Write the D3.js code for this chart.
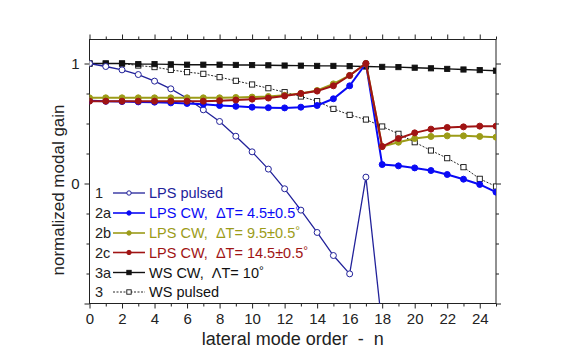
<!DOCTYPE html>
<html>
<head>
<meta charset="utf-8">
<script src="https://cdn.jsdelivr.net/npm/d3@7"></script>
<style>
body{margin:0;background:#fff;}
svg text{font-family:"Liberation Sans",Arial,sans-serif;fill:#222;white-space:pre;}
</style>
</head>
<body>
<div id="content"></div>
<script>
// data
var modes = [0,1,2,3,4,5,6,7,8,9,10,11,12,13,14,15,16,17,18,19,20,21,22,23,24,25];
var lpsPulsed = [1.0,0.975,0.947,0.908,0.853,0.789,0.71,0.614,0.517,0.394,0.264,0.12,-0.044,-0.222,-0.408,-0.6,-0.753,0.053,-1.2];
var lpsCw45 = [0.69,0.685,0.683,0.68,0.678,0.672,0.667,0.66,0.65,0.643,0.636,0.632,0.63,0.636,0.65,0.706,0.814,1.0,0.158,0.147,0.13,0.108,0.075,0.036,-0.008,-0.072];
var lpsCw95 = [0.714,0.714,0.714,0.714,0.714,0.714,0.714,0.714,0.714,0.717,0.72,0.725,0.735,0.75,0.775,0.83,0.9,1.0,0.308,0.344,0.375,0.392,0.397,0.397,0.392,0.386];
var lpsCw145 = [0.686,0.686,0.686,0.686,0.686,0.686,0.686,0.686,0.69,0.695,0.703,0.712,0.73,0.75,0.77,0.814,0.9,1.0,0.308,0.375,0.422,0.453,0.467,0.472,0.478,0.478];
var wsCw = [1.0,1.0,1.0,0.995,0.995,0.993,0.99,0.99,0.99,0.988,0.987,0.985,0.983,0.982,0.98,0.98,0.978,0.975,0.972,0.97,0.965,0.96,0.955,0.95,0.945,0.94];
var wsPulsed = [1.0,1.0,1.0,0.983,0.97,0.947,0.928,0.914,0.886,0.856,0.825,0.794,0.761,0.725,0.686,0.622,0.572,0.533,0.475,0.414,0.344,0.275,0.211,0.136,0.039,-0.025];

var xTicks = [0,2,4,6,8,10,12,14,16,18,20,22,24];
var xMinor = [1,3,5,7,9,11,13,15,17,19,21,23,25];
var yTicks = [-1,0,1];
var yLabels = [0,1];
var yMinor = [-0.75,-0.5,-0.25,0.25,0.5,0.75];

var legendNums = ["1","2a","2b","2c","3a","3"];
var legendNames = ["LPS pulsed","LPS CW,  \u0394T= 4.5\u00b10.5","LPS CW,  \u0394T= 9.5\u00b10.5","LPS CW,  \u0394T= 14.5\u00b10.5","WS CW,  \u039bT= 10","WS pulsed"];

var width = 568, height = 353;
var plotLeft = 89.5, plotRight = 496, plotTop = 39.5, plotBottom = 303.5;

var x = d3.scaleLinear().domain([0,25]).range([plotLeft,plotRight]);
var y = d3.scaleLinear().domain([-1,1.2]).range([plotBottom,plotTop]);

// series styles, in drawing order
var series = [
  {data: wsPulsed, color:"#111", width:0.9, dash:"2,1.5", marker:"square", fill:"#fff", leg:5},
  {data: wsCw, color:"#111", width:1.4, dash:null, marker:"square", fill:"#111", leg:4},
  {data: lpsPulsed, color:"#22229a", width:1.3, dash:null, marker:"circle", fill:"#fff", leg:0},
  {data: lpsCw45, color:"#0a0af5", width:2, dash:null, marker:"circle", fill:"#0a0af5", leg:1},
  {data: lpsCw95, color:"#9c9c18", width:2, dash:null, marker:"circle", fill:"#9c9c18", leg:2},
  {data: lpsCw145, color:"#a01414", width:2, dash:null, marker:"circle", fill:"#a01414", leg:3}
];

var svg = d3.select("#content").append("svg")
  .attr("width", width)
  .attr("height", height);

svg.append("clipPath").attr("id","plotclip")
  .append("rect").attr("x",plotLeft).attr("y",plotTop).attr("width",plotRight-plotLeft).attr("height",plotBottom-plotTop);

// axes
function styleAxis(g){
  g.select(".domain").remove();
  g.selectAll("line").attr("stroke","#222");
  g.selectAll("text").style("font-size","15px").attr("fill","#222");
}

svg.append("g").attr("transform","translate(0,"+plotBottom+")")
  .call(d3.axisBottom(x).tickValues(xTicks).tickSize(5).tickPadding(5).tickSizeOuter(0)).call(styleAxis);
svg.append("g").attr("transform","translate(0,"+plotBottom+")")
  .call(d3.axisBottom(x).tickValues(xMinor).tickSize(3).tickFormat("")).call(styleAxis);
svg.append("g").attr("transform","translate(0,"+plotTop+")")
  .call(d3.axisTop(x).tickValues(xTicks).tickSize(5).tickFormat("")).call(styleAxis);
svg.append("g").attr("transform","translate(0,"+plotTop+")")
  .call(d3.axisTop(x).tickValues(xMinor).tickSize(3).tickFormat("")).call(styleAxis);

svg.append("g").attr("transform","translate("+plotLeft+",0)")
  .call(d3.axisLeft(y).tickValues(yTicks).tickSize(5).tickPadding(5)
    .tickFormat(function(d){return yLabels.indexOf(d)>=0 ? d : "";})).call(styleAxis);
svg.append("g").attr("transform","translate("+plotLeft+",0)")
  .call(d3.axisLeft(y).tickValues(yMinor).tickSize(3).tickFormat("")).call(styleAxis);
svg.append("g").attr("transform","translate("+plotRight+",0)")
  .call(d3.axisRight(y).tickValues(yTicks).tickSize(5).tickFormat("")).call(styleAxis);
svg.append("g").attr("transform","translate("+plotRight+",0)")
  .call(d3.axisRight(y).tickValues(yMinor).tickSize(3).tickFormat("")).call(styleAxis);

svg.append("rect")
  .attr("x",plotLeft).attr("y",plotTop).attr("width",plotRight-plotLeft).attr("height",plotBottom-plotTop)
  .attr("fill","none").attr("stroke","#222").attr("stroke-width",1);

// axis titles
svg.append("text")
  .attr("x",(plotLeft+plotRight)/2).attr("y",345)
  .attr("text-anchor","middle").style("font-size","18px")
  .text("lateral mode order  -  n");
svg.append("text")
  .attr("transform","translate(64,190) rotate(-90)")
  .attr("text-anchor","middle").style("font-size","17px")
  .text("normalized modal gain");

// series
var plot = svg.append("g").attr("clip-path","url(#plotclip)");
var line = d3.line()
  .x(function(d,i){return x(modes[i]);})
  .y(function(d){return y(d);});

function drawMarker(g, s, cx, cy, size){
  if(s.marker=="square"){
    g.append("rect").attr("x",cx-size).attr("y",cy-size)
      .attr("width",size*2).attr("height",size*2)
      .attr("fill",s.fill).attr("stroke",s.color).attr("stroke-width",0.9);
  } else {
    g.append("circle").attr("cx",cx).attr("cy",cy).attr("r",size)
      .attr("fill",s.fill).attr("stroke",s.color).attr("stroke-width",1);
  }
}

series.forEach(function(s){
  plot.append("path")
    .datum(s.data)
    .attr("d",line)
    .attr("fill","none")
    .attr("stroke",s.color)
    .attr("stroke-width",s.width)
    .attr("stroke-dasharray",s.dash);
  var g = plot.append("g");
  s.data.forEach(function(d,i){
    drawMarker(g, s, x(modes[i]), y(d), s.marker=="square" ? 2.6 : 3);
  });
});

// legend
var legY = [193,213,233,252.5,272.5,292];
var leg = svg.append("g");
series.forEach(function(s){
  var cy = legY[s.leg];
  leg.append("text").attr("x",95).attr("y",cy+5).style("font-size","14.5px").text(legendNums[s.leg]);
  leg.append("line").attr("x1",113).attr("x2",145).attr("y1",cy).attr("y2",cy)
    .attr("stroke",s.color).attr("stroke-width",s.width>1.5 ? 1.6 : s.width)
    .attr("stroke-dasharray",s.dash);
  drawMarker(leg, s, 129, cy, 2.2);
  var t = leg.append("text").attr("x",149).attr("y",cy+5).style("font-size","14.5px")
    .style("fill", s.color);
  t.append("tspan").text(legendNames[s.leg]);
  if(s.leg>=1 && s.leg<=4){
    t.append("tspan").attr("dy",-3).style("font-size","12px").text("\u00b0");
  }
});
</script>
</body>
</html>
